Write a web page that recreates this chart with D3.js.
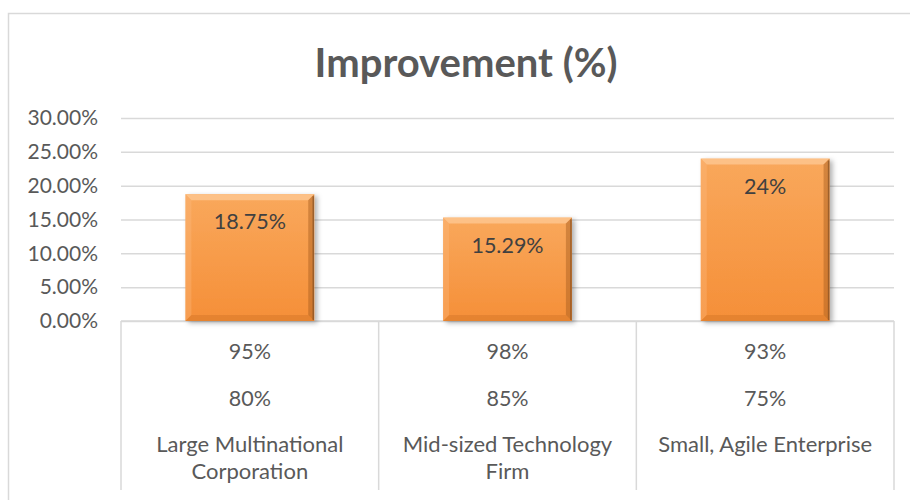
<!DOCTYPE html>
<html>
<head>
<meta charset="utf-8">
<script src="https://cdn.jsdelivr.net/npm/d3@7"></script>
<style>
  body { margin: 0; background: #fff; }
  text { font-family: Lato, "Open Sans", sans-serif; }
</style>
</head>
<body>
<div id="chart"></div>
<script>
// data
const companies = ["Large Multinational Corporation", "Mid-sized Technology Firm", "Small, Agile Enterprise"];
const nameLines = [["Large Multinational", "Corporation"], ["Mid-sized Technology", "Firm"], ["Small, Agile Enterprise"]];
const rowA = ["95%", "98%", "93%"];
const rowB = ["80%", "85%", "75%"];
const improvement = [18.75, 15.29, 24];
const yTicks = [0, 5, 10, 15, 20, 25, 30];

const width = 910, height = 500;
const plot = { left: 121, right: 894, top: 118, bottom: 321 };

const svg = d3.select("#chart").append("svg")
  .attr("width", width)
  .attr("height", height)
  .style("background-color", "#fff");

const defs = svg.append("defs");

const grad = defs.append("linearGradient")
  .attr("id", "barFill").attr("x1", 0).attr("y1", 0).attr("x2", 0).attr("y2", 1);
grad.append("stop").attr("offset", "0%").attr("stop-color", "#F9A85C");
grad.append("stop").attr("offset", "100%").attr("stop-color", "#F58F38");

const shadow = defs.append("filter").attr("id", "shadow")
  .attr("x", "-20%").attr("y", "-20%").attr("width", "140%").attr("height", "140%");
shadow.append("feDropShadow")
  .attr("dx", 3).attr("dy", 2).attr("stdDeviation", 2.5)
  .attr("flood-color", "#000").attr("flood-opacity", 0.3);

// outer chart frame
svg.append("rect")
  .attr("x", 8.5).attr("y", 13.5)
  .attr("width", width).attr("height", height)
  .attr("fill", "none")
  .attr("stroke", "#d9d9d9")
  .attr("stroke-width", 1.5);

// title
svg.append("text")
  .attr("x", 466)
  .attr("y", 77)
  .attr("text-anchor", "middle")
  .attr("font-size", "40px")
  .attr("font-weight", "bold")
  .attr("fill", "#595959")
  .text("Improvement (%)");

const x = d3.scaleBand()
  .domain(companies)
  .range([plot.left, plot.right])
  .paddingInner(0.5)
  .paddingOuter(0.25);

const y = d3.scaleLinear()
  .domain([0, 30])
  .range([plot.bottom, plot.top]);

// gridlines + y labels
const yAxis = svg.append("g")
  .attr("transform", `translate(${plot.left},0)`)
  .call(d3.axisLeft(y)
    .tickValues(yTicks)
    .tickSize(-(plot.right - plot.left))
    .tickPadding(23)
    .tickFormat(d => d.toFixed(2) + "%"));
yAxis.select(".domain").remove();
yAxis.selectAll(".tick line").attr("stroke", "#d9d9d9").attr("stroke-width", 1.5);
yAxis.selectAll(".tick text")
  .attr("font-size", "21px")
  .attr("fill", "#595959")
  .attr("font-family", "Lato, sans-serif");

// category axis: separators
const step = x.step();
const edges = d3.range(companies.length + 1).map(i => plot.left + i * step);
svg.append("line")
  .attr("x1", plot.left).attr("x2", plot.right)
  .attr("y1", y(0)).attr("y2", y(0))
  .attr("stroke", "#d9d9d9").attr("stroke-width", 1.5);
svg.selectAll(".sep")
  .data(edges)
  .enter()
  .append("line")
  .attr("class", "sep")
  .attr("x1", d => d).attr("x2", d => d)
  .attr("y1", y(0)).attr("y2", 490)
  .attr("stroke", "#d9d9d9").attr("stroke-width", 1.5);

// bars
const bev = 6;
const bars = svg.selectAll(".bar")
  .data(improvement)
  .enter()
  .append("g")
  .attr("class", "bar");

bars.append("rect")
  .attr("x", (d, i) => x(companies[i]))
  .attr("y", d => y(d))
  .attr("width", x.bandwidth())
  .attr("height", d => y(0) - y(d))
  .attr("fill", "url(#barFill)")
  .attr("filter", "url(#shadow)");

function bevel(sel, pts, fill, op) {
  sel.append("polygon")
    .attr("points", (d, i) => pts(x(companies[i]), y(d), x.bandwidth(), y(0) - y(d)).map(p => p.join(",")).join(" "))
    .attr("fill", fill)
    .attr("fill-opacity", op);
}
// top
bevel(bars, (x0, y0, w, h) => [[x0, y0], [x0 + w, y0], [x0 + w - bev, y0 + bev], [x0 + bev, y0 + bev]], "#FFD2A4", 0.6);
// left
bevel(bars, (x0, y0, w, h) => [[x0, y0], [x0 + bev, y0 + bev], [x0 + bev, y0 + h - bev], [x0, y0 + h]], "#FCBB80", 0.35);
// right
bevel(bars, (x0, y0, w, h) => [[x0 + w, y0], [x0 + w, y0 + h], [x0 + w - bev, y0 + h - bev], [x0 + w - bev, y0 + bev]], "#A55A1C", 0.45);
// bottom
bevel(bars, (x0, y0, w, h) => [[x0, y0 + h], [x0 + bev, y0 + h - bev], [x0 + w - bev, y0 + h - bev], [x0 + w, y0 + h]], "#C96E22", 0.35);
// dark outer edge on right
bars.append("line")
  .attr("x1", (d, i) => x(companies[i]) + x.bandwidth() - 1)
  .attr("x2", (d, i) => x(companies[i]) + x.bandwidth() - 1)
  .attr("y1", d => y(d) + 2)
  .attr("y2", y(0) - 1)
  .attr("stroke", "#7A4A22")
  .attr("stroke-opacity", 0.6)
  .attr("stroke-width", 1.5);

// data labels
bars.append("text")
  .attr("x", (d, i) => x(companies[i]) + x.bandwidth() / 2)
  .attr("y", d => y(d) + 35)
  .attr("text-anchor", "middle")
  .attr("font-size", "21.5px")
  .attr("fill", "#404040")
  .text(d => d + "%");

// category rows
const centers = companies.map(c => x(c) + x.bandwidth() / 2);
svg.selectAll(".rowA")
  .data(rowA)
  .enter()
  .append("text")
  .attr("x", (d, i) => centers[i])
  .attr("y", 359)
  .attr("text-anchor", "middle")
  .attr("font-size", "21.5px")
  .attr("fill", "#595959")
  .text(d => d);

svg.selectAll(".rowB")
  .data(rowB)
  .enter()
  .append("text")
  .attr("x", (d, i) => centers[i])
  .attr("y", 406)
  .attr("text-anchor", "middle")
  .attr("font-size", "21.5px")
  .attr("fill", "#595959")
  .text(d => d);

nameLines.forEach((lines, i) => {
  lines.forEach((t, j) => {
    svg.append("text")
      .attr("x", centers[i])
      .attr("y", 452 + j * 27)
      .attr("text-anchor", "middle")
      .attr("font-size", "22px")
      .attr("fill", "#595959")
      .text(t);
  });
});
</script>
</body>
</html>
